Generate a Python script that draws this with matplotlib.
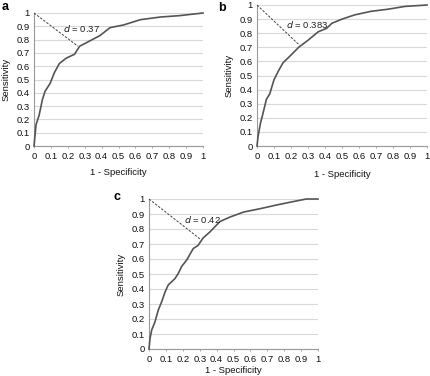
import matplotlib
matplotlib.use("Agg")
import matplotlib.pyplot as plt

plt.rcParams["font.family"] = ["Liberation Sans", "DejaVu Sans"]

# ROC curves (1 - specificity, sensitivity)
fpr_a = [0, 0.012, 0.03, 0.05, 0.065, 0.095, 0.12, 0.15, 0.19, 0.24, 0.27,
         0.33, 0.39, 0.45, 0.53, 0.63, 0.75, 0.86, 1.0]
tpr_a = [0, 0.16, 0.23, 0.35, 0.41, 0.47, 0.55, 0.62, 0.66, 0.69, 0.75,
         0.79, 0.83, 0.89, 0.91, 0.95, 0.97, 0.98, 1.0]

fpr_b = [0, 0.006, 0.02, 0.035, 0.055, 0.075, 0.1, 0.125, 0.153, 0.2, 0.245,
         0.3, 0.36, 0.41, 0.44, 0.5, 0.575, 0.67, 0.77, 0.87, 1.0]
tpr_b = [0, 0.066, 0.16, 0.23, 0.33, 0.37, 0.47, 0.53, 0.59, 0.645, 0.70,
         0.75, 0.81, 0.835, 0.87, 0.90, 0.93, 0.955, 0.97, 0.99, 1.0]

fpr_c = [0, 0.006, 0.016, 0.035, 0.055, 0.075, 0.095, 0.114, 0.154, 0.174,
         0.193, 0.223, 0.262, 0.29, 0.32, 0.36, 0.42, 0.48, 0.56, 0.66,
         0.755, 0.85, 0.93, 1.0]
tpr_c = [0, 0.07, 0.127, 0.18, 0.26, 0.315, 0.38, 0.427, 0.47, 0.505,
         0.55, 0.593, 0.67, 0.69, 0.74, 0.78, 0.85, 0.88, 0.913, 0.936,
         0.96, 0.982, 1.0, 1.0]

# closest point to (0, 1) and its distance
near_a = (0.26, 0.75)
near_b = (0.25, 0.715)
near_c = (0.306, 0.73)
d_values = ["0.37", "0.383", "0.42"]
letters = ["a", "b", "c"]
ticks = [0, 0.1, 0.2, 0.3, 0.4, 0.5, 0.6, 0.7, 0.8, 0.9, 1]
tick_labels = ["0", "0.1", "0.2", "0.3", "0.4", "0.5", "0.6", "0.7", "0.8", "0.9", "1"]

fig = plt.figure(figsize=(4.30, 3.76), dpi=100)

boxes = [
    [34 / 430, 1 - 146 / 376, 169 / 430, 133 / 376],
    [257 / 430, 1 - 146 / 376, 170 / 430, 141 / 376],
    [149 / 430, 1 - 349 / 376, 169 / 430, 150 / 376],
]
curves = [(fpr_a, tpr_a), (fpr_b, tpr_b), (fpr_c, tpr_c)]
nears = [near_a, near_b, near_c]
text_pos = [(0.17, 0.88), (0.17, 0.865), (0.207, 0.865)]
letter_pos = [(2 / 430, 1 - 7 / 376), (218 / 430, 1 - 8 / 376), (113 / 430, 1 - 197 / 376)]
xlabel_pads = [5, 6, 1]

for i in range(3):
    ax = fig.add_axes(boxes[i])
    fx, ty = curves[i]
    ax.plot(fx, ty, color="#555555", lw=1.2, clip_on=False, zorder=3)
    nx, ny = nears[i]
    ax.plot([0, nx], [1, ny], color="#444444", lw=0.7, ls=(0, (2.5, 1.5)),
            clip_on=False, zorder=3)
    tx, tyy = text_pos[i]
    ax.text(tx, tyy, "$d$" + " = " + d_values[i], fontsize=6.8, color="#222222",
            va="center", ha="left")
    ax.set_xlim(0, 1)
    ax.set_ylim(0, 1)
    ax.set_xticks(ticks)
    ax.set_xticklabels(tick_labels)
    ax.set_yticks(ticks)
    ax.set_yticklabels(tick_labels)
    ax.grid(axis="y", color="#d9d9d9", lw=0.8)
    ax.set_axisbelow(True)
    for s in ["top", "right"]:
        ax.spines[s].set_visible(False)
    for s in ["left", "bottom"]:
        ax.spines[s].set_color("#999999")
        ax.spines[s].set_linewidth(0.8)
    ax.tick_params(axis="x", length=1.5, width=0.6, color="#999999",
                   labelsize=6.8, pad=3, labelcolor="#111111")
    ax.tick_params(axis="y", length=0, labelsize=6.8, pad=3, labelcolor="#111111")
    ax.set_xlabel("1 - Specificity", fontsize=6.8, color="#111111",
                  labelpad=xlabel_pads[i])
    ax.set_ylabel("Sensitivity", fontsize=6.8, color="#111111", labelpad=4)
    fig.text(letter_pos[i][0], letter_pos[i][1], letters[i], fontsize=9,
             fontweight="bold", va="center", ha="left")

fig.savefig("out.png", dpi=100)
